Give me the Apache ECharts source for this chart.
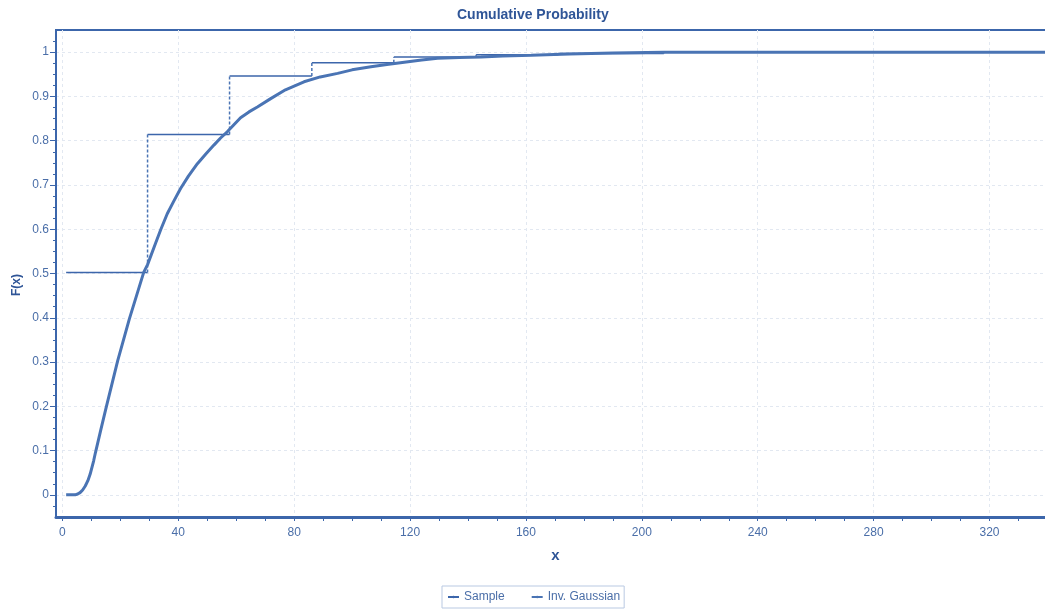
<!DOCTYPE html>
<html>
<head>
<meta charset="utf-8">
<script src="https://cdn.jsdelivr.net/npm/echarts@6/dist/echarts.min.js"></script>
<style>
  html, body { margin: 0; padding: 0; background: #fff; }
  #chart { width: 1045px; height: 609px; }
</style>
</head>
<body>
<div id="chart"></div>
<script>
// Empirical CDF of the sample: jump locations and the level reached at each jump
const sampleX = [1.3, 29.4, 57.7, 86.1, 114.4, 142.8, 171.2, 207.6];
const sampleF = [0.502, 0.814, 0.946, 0.976, 0.989, 0.994, 0.997, 1.0];

// Fitted inverse Gaussian CDF
const fitX = [1.3, 4.4, 5.3, 6.1, 7.0, 7.9, 8.8, 9.6, 10.8, 11.4, 13.2, 15.1, 17.1, 19.1, 21.1, 23.1, 25.6, 28.1,
              29.4, 32.1, 34.0, 36.2, 38.5, 40.8, 43.5, 46.6, 49.5, 52.3, 54.6, 56.9, 59.2, 61.5, 64.4, 67.3,
              71.9, 77.0, 83.4, 89.0, 95.0, 100.0, 106.5, 112.0, 118.0, 124.0, 129.5, 137.0, 144.5, 152.0,
              161.8, 175.0, 190.0, 207.6, 250.0, 300.0, 342.6];
const fitF = [0.0, 0.0, 0.002, 0.005, 0.011, 0.02, 0.032, 0.047, 0.077, 0.095, 0.145, 0.197, 0.25, 0.303, 0.35, 0.397, 0.45, 0.503,
              0.52, 0.567, 0.6, 0.635, 0.664, 0.692, 0.72, 0.748, 0.77, 0.79, 0.806, 0.82, 0.836, 0.852, 0.865, 0.876,
              0.895, 0.915, 0.933, 0.944, 0.952, 0.96, 0.967, 0.972, 0.977, 0.982, 0.986, 0.988, 0.989, 0.991,
              0.993, 0.996, 0.998, 1.0, 1.0, 1.0, 1.0];

// Axis ticks and labels
const xMajorTicks = [0, 40, 80, 120, 160, 200, 240, 280, 320];
const xMinorTicks = [0, 10, 20, 30, 40, 50, 60, 70, 80, 90, 100, 110, 120, 130, 140, 150, 160, 170,
                     180, 190, 200, 210, 220, 230, 240, 250, 260, 270, 280, 290, 300, 310, 320, 330, 340];
const yMajorTicks = [0, 0.1, 0.2, 0.3, 0.4, 0.5, 0.6, 0.7, 0.8, 0.9, 1];
const yMinorTicks = [-0.025, 0, 0.025, 0.05, 0.075, 0.1, 0.125, 0.15, 0.175, 0.2, 0.225, 0.25, 0.275,
                     0.3, 0.325, 0.35, 0.375, 0.4, 0.425, 0.45, 0.475, 0.5, 0.525, 0.55, 0.575, 0.6,
                     0.625, 0.65, 0.675, 0.7, 0.725, 0.75, 0.775, 0.8, 0.825, 0.85, 0.875, 0.9, 0.925,
                     0.95, 0.975, 1, 1.025];

const X_MIN = -2.2, X_MAX = 342.6;
const Y_MIN = -0.05, Y_MAX = 1.05;

const AXIS_COLOR = '#3c66ab';
const TEXT_COLOR = '#4a6ea8';
const LINE_COLOR = '#4a74b4';
const GRID_COLOR = '#e2e8f1';
const FONT = '"Liberation Sans", Arial, sans-serif';

// Horizontal treads (solid) and vertical risers (dashed) of the step function
const treads = [];
const risers = [];
for (let i = 0; i < sampleX.length; i++) {
  const xEnd = i + 1 < sampleX.length ? sampleX[i + 1] : X_MAX;
  treads.push([sampleX[i], sampleF[i]], [xEnd, sampleF[i]], null);
  if (i > 0) risers.push([sampleX[i], sampleF[i - 1]], [sampleX[i], sampleF[i]], null);
}
const fitData = fitX.map((x, i) => [x, fitF[i]]);

const chart = echarts.init(document.getElementById('chart'), null, { renderer: 'canvas' });

chart.setOption({
  backgroundColor: '#ffffff',
  animation: false,
  title: {
    text: 'Cumulative Probability',
    left: 457,
    top: 8,
    padding: 0,
    textStyle: { fontFamily: FONT, fontSize: 14, fontWeight: 'bold', color: '#2f5597' }
  },
  legend: {
    data: ['Sample', 'Inv. Gaussian'],
    left: 442,
    top: 586,
    orient: 'horizontal',
    padding: [5, 4, 5, 5],
    itemWidth: 11,
    itemHeight: 3,
    itemGap: 26,
    borderColor: '#b9c9e2',
    borderWidth: 1,
    borderRadius: 0,
    textStyle: { fontFamily: FONT, fontSize: 12, color: TEXT_COLOR }
  },
  graphic: [{
    type: 'text',
    x: 17,
    y: 285,
    rotation: Math.PI / 2,
    style: {
      text: 'F(x)',
      fontFamily: FONT,
      fontSize: 12,
      fontWeight: 'bold',
      fill: '#2f5597',
      align: 'center',
      verticalAlign: 'middle'
    }
  }],
  grid: {
    left: 56,
    top: 30,
    right: -10,
    bottom: 92,
    show: true,
    borderColor: AXIS_COLOR,
    borderWidth: 2,
    backgroundColor: '#ffffff',
    containLabel: false,
    outerBoundsMode: 'none'
  },
  xAxis: [{
    type: 'value',
    min: X_MIN,
    max: X_MAX,
    name: 'x',
    nameLocation: 'middle',
    nameGap: 31,
    nameTextStyle: { fontFamily: FONT, fontSize: 15, fontWeight: 'bold', color: '#2f5597' },
    axisLine: { show: true, onZero: false, lineStyle: { color: AXIS_COLOR, width: 3 } },
    axisTick: { show: true, customValues: xMajorTicks, length: 4, lineStyle: { color: AXIS_COLOR, width: 1 } },
    axisLabel: {
      customValues: xMajorTicks,
      margin: 10,
      fontFamily: FONT,
      fontSize: 12,
      color: TEXT_COLOR
    },
    splitLine: { show: true, lineStyle: { color: GRID_COLOR, width: 1, type: [3, 3] } }
  }, {
    type: 'value',
    min: X_MIN,
    max: X_MAX,
    position: 'bottom',
    axisLine: { show: false, onZero: false },
    axisTick: { show: true, customValues: xMinorTicks, length: 4, lineStyle: { color: AXIS_COLOR, width: 1 } },
    axisLabel: { show: false },
    splitLine: { show: false }
  }],
  yAxis: [{
    type: 'value',
    min: Y_MIN,
    max: Y_MAX,
    axisLine: { show: true, onZero: false, lineStyle: { color: AXIS_COLOR, width: 2 } },
    axisTick: { show: true, customValues: yMajorTicks, length: 6, lineStyle: { color: AXIS_COLOR, width: 1 } },
    axisLabel: {
      customValues: yMajorTicks,
      margin: 7,
      fontFamily: FONT,
      fontSize: 12,
      color: TEXT_COLOR
    },
    splitLine: { show: true, lineStyle: { color: GRID_COLOR, width: 1, type: [3, 3] } }
  }, {
    type: 'value',
    min: Y_MIN,
    max: Y_MAX,
    position: 'left',
    axisLine: { show: false, onZero: false },
    axisTick: { show: true, customValues: yMinorTicks, length: 3, lineStyle: { color: AXIS_COLOR, width: 1 } },
    axisLabel: { show: false },
    splitLine: { show: false }
  }],
  series: [{
    name: 'Sample',
    type: 'line',
    data: treads,
    showSymbol: false,
    symbol: 'none',
    connectNulls: false,
    lineStyle: { color: AXIS_COLOR, width: 1.5 },
    itemStyle: { color: AXIS_COLOR },
    z: 3
  }, {
    name: 'Sample',
    type: 'line',
    data: risers,
    showSymbol: false,
    symbol: 'none',
    connectNulls: false,
    lineStyle: { color: LINE_COLOR, width: 1.5, type: [3, 2] },
    itemStyle: { color: AXIS_COLOR },
    z: 3
  }, {
    name: 'Inv. Gaussian',
    type: 'line',
    data: fitData,
    showSymbol: false,
    symbol: 'none',
    smooth: false,
    lineStyle: { color: LINE_COLOR, width: 3 },
    itemStyle: { color: LINE_COLOR },
    z: 4
  }]
});
</script>
</body>
</html>
